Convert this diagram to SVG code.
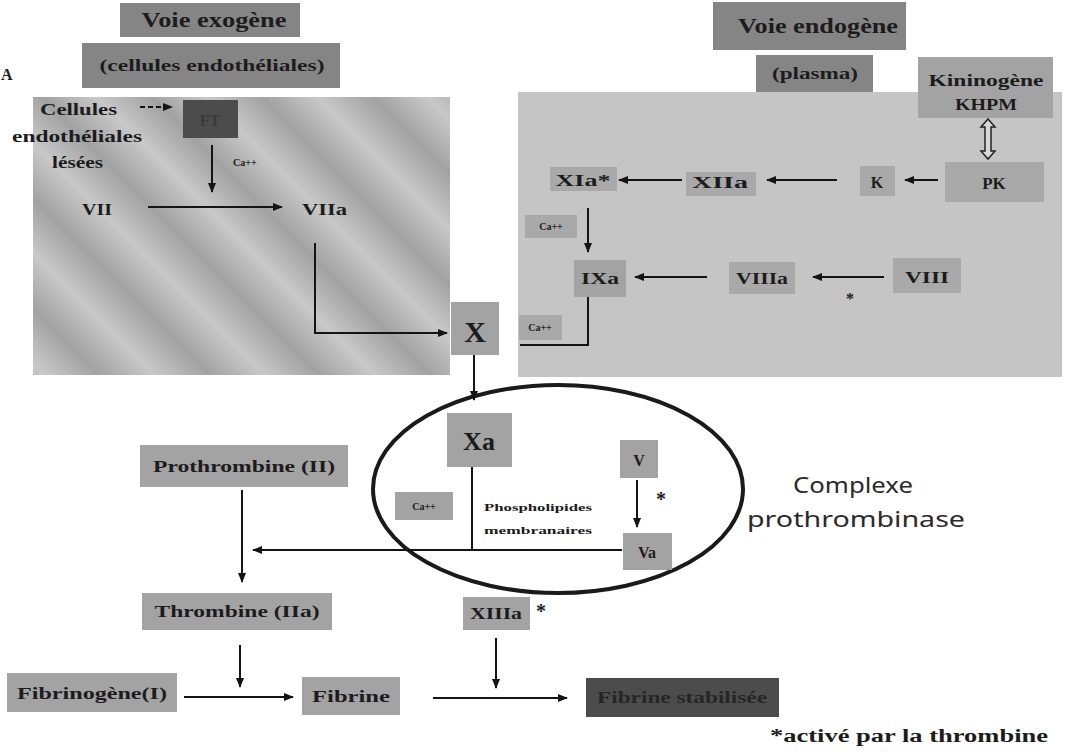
<svg xmlns="http://www.w3.org/2000/svg" width="1065" height="753" viewBox="0 0 1065 753">
<defs>
<style>
.t{font-family:"Liberation Serif","Times New Roman",serif;font-weight:bold;fill:#1c1c1c}
.box{fill:#a3a3a3}
.rbox{fill:#a9a9a9}
.dark{fill:#858585}
.vdark{fill:#4c4c4c}
.ln{stroke:#141414;stroke-width:2;fill:none}
.arr{marker-end:url(#ah)}
</style>
<marker id="ah" viewBox="0 0 10 10" refX="9" refY="5" markerWidth="5" markerHeight="5" markerUnits="strokeWidth" orient="auto"><path d="M0,1 L10,5 L0,9 z" fill="#141414"/></marker>
<linearGradient id="stripes" gradientUnits="userSpaceOnUse" x1="0" y1="0" x2="55" y2="-55" spreadMethod="repeat">
<stop offset="0" stop-color="#c8c8c8"/>
<stop offset="0.5" stop-color="#a2a2a2"/>
<stop offset="1" stop-color="#c8c8c8"/>
</linearGradient>
</defs>
<rect width="1065" height="753" fill="#ffffff"/>

<!-- panels -->
<rect id="panel-exogene" x="33" y="97" width="417" height="278" fill="url(#stripes)"/>
<rect id="panel-endogene" x="518" y="92" width="544" height="285" fill="#c5c5c5"/>

<text class="t" x="1" y="80" font-size="16">A</text>

<g id="voie-exogene">
<rect class="dark" x="120" y="3" width="180" height="34"/>
<text class="t" x="214" y="27" font-size="20" text-anchor="middle" textLength="145" lengthAdjust="spacingAndGlyphs">Voie exogène</text>
</g>
<g id="cellules-endotheliales-titre">
<rect class="dark" x="82" y="43" width="258" height="45"/>
<text class="t" x="212" y="71" font-size="17" text-anchor="middle" textLength="225" lengthAdjust="spacingAndGlyphs">(cellules endothéliales)</text>
</g>
<g id="cellules-lesees">
<text class="t" x="40" y="115" font-size="17" textLength="77" lengthAdjust="spacingAndGlyphs">Cellules</text>
<text class="t" x="12" y="142" font-size="17" textLength="130" lengthAdjust="spacingAndGlyphs">endothéliales</text>
<text class="t" x="52" y="168" font-size="16" textLength="51" lengthAdjust="spacingAndGlyphs">lésées</text>
</g>
<g id="ft">
<rect class="vdark" x="183" y="100" width="55" height="38"/>
<text class="t" x="210" y="126" font-size="16" text-anchor="middle" style="fill:#3a3a3a">FT</text>
</g>
<g id="ca-exo">
<text class="t" x="233" y="166" font-size="10">Ca++</text>
</g>
<g id="vii">
<text class="t" x="82" y="215" font-size="16" textLength="30" lengthAdjust="spacingAndGlyphs">VII</text>
</g>
<g id="viia">
<text class="t" x="302" y="215" font-size="16" textLength="45" lengthAdjust="spacingAndGlyphs">VIIa</text>
</g>
<g id="x">
<rect class="box" x="451" y="302" width="48" height="53"/>
<text class="t" x="475" y="342" font-size="30" text-anchor="middle">X</text>
</g>

<g id="voie-endogene">
<rect class="dark" x="713" y="2" width="193" height="48"/>
<text class="t" x="818" y="33" font-size="20" text-anchor="middle" textLength="160" lengthAdjust="spacingAndGlyphs">Voie endogène</text>
</g>
<g id="plasma">
<rect class="dark" x="756" y="55" width="117" height="37"/>
<text class="t" x="815" y="79" font-size="16" text-anchor="middle" textLength="86" lengthAdjust="spacingAndGlyphs">(plasma)</text>
</g>
<g id="kininogene">
<rect class="box" x="918" y="57" width="135" height="61"/>
<text class="t" x="986" y="86" font-size="16" text-anchor="middle" textLength="115" lengthAdjust="spacingAndGlyphs">Kininogène</text>
<text class="t" x="986" y="110" font-size="16" text-anchor="middle" textLength="62" lengthAdjust="spacingAndGlyphs">KHPM</text>
</g>
<g id="xia">
<rect class="rbox" x="550" y="167" width="67" height="24"/>
<text class="t" x="583" y="186" font-size="16" text-anchor="middle" textLength="55" lengthAdjust="spacingAndGlyphs">XIa*</text>
</g>
<g id="xiia">
<rect class="rbox" x="686" y="172" width="70" height="24"/>
<text class="t" x="720" y="188" font-size="16" text-anchor="middle" textLength="56" lengthAdjust="spacingAndGlyphs">XIIa</text>
</g>
<g id="k">
<rect class="rbox" x="860" y="166" width="35" height="30"/>
<text class="t" x="877" y="188" font-size="16" text-anchor="middle">K</text>
</g>
<g id="pk">
<rect class="rbox" x="945" y="162" width="99" height="40"/>
<text class="t" x="994" y="189" font-size="17" text-anchor="middle">PK</text>
</g>
<g id="ca-xia">
<rect class="rbox" x="525" y="215" width="52" height="23"/>
<text class="t" x="551" y="230" font-size="10" text-anchor="middle">Ca++</text>
</g>
<g id="ixa">
<rect class="box" x="574" y="260" width="52" height="37"/>
<text class="t" x="600" y="284" font-size="16" text-anchor="middle" textLength="38" lengthAdjust="spacingAndGlyphs">IXa</text>
</g>
<g id="viiia">
<rect class="rbox" x="729" y="262" width="66" height="32"/>
<text class="t" x="762" y="284" font-size="16" text-anchor="middle" textLength="52" lengthAdjust="spacingAndGlyphs">VIIIa</text>
</g>
<g id="viii">
<rect class="rbox" x="893" y="258" width="68" height="35"/>
<text class="t" x="927" y="283" font-size="16" text-anchor="middle" textLength="44" lengthAdjust="spacingAndGlyphs">VIII</text>
</g>
<g id="ca-ixa">
<rect class="rbox" x="519" y="315" width="43" height="25"/>
<text class="t" x="540" y="331" font-size="10" text-anchor="middle">Ca++</text>
</g>

<g id="complexe-prothrombinase">
<ellipse cx="558" cy="489" rx="185" ry="104" fill="none" stroke="#1a1a1a" stroke-width="4"/>
<text x="853" y="493" font-family="'Noto Sans','DejaVu Sans',sans-serif" font-size="22" fill="#2a2a2a" text-anchor="middle" textLength="120" lengthAdjust="spacingAndGlyphs">Complexe</text>
<text x="856" y="527" font-family="'Noto Sans','DejaVu Sans',sans-serif" font-size="22" fill="#2a2a2a" text-anchor="middle" textLength="218" lengthAdjust="spacingAndGlyphs">prothrombinase</text>
</g>
<g id="xa">
<rect class="box" x="447" y="413" width="65" height="54"/>
<text class="t" x="479" y="450" font-size="26" text-anchor="middle">Xa</text>
</g>
<g id="ca-complexe">
<rect class="box" x="395" y="492" width="58" height="28"/>
<text class="t" x="424" y="510" font-size="10" text-anchor="middle">Ca++</text>
</g>
<g id="phospholipides">
<text class="t" x="538" y="511" font-size="11" text-anchor="middle" textLength="108" lengthAdjust="spacingAndGlyphs">Phospholipides</text>
<text class="t" x="538" y="534" font-size="11" text-anchor="middle" textLength="108" lengthAdjust="spacingAndGlyphs">membranaires</text>
</g>
<g id="v">
<rect class="box" x="620" y="440" width="38" height="38"/>
<text class="t" x="639" y="466" font-size="16" text-anchor="middle">V</text>
</g>
<g id="va">
<rect class="box" x="623" y="533" width="49" height="37"/>
<text class="t" x="647" y="558" font-size="16" text-anchor="middle">Va</text>
</g>

<g id="prothrombine">
<rect class="box" x="140" y="445" width="208" height="42"/>
<text class="t" x="244" y="472" font-size="17" text-anchor="middle" textLength="182" lengthAdjust="spacingAndGlyphs">Prothrombine (II)</text>
</g>
<g id="thrombine">
<rect class="box" x="142" y="593" width="190" height="37"/>
<text class="t" x="237" y="617" font-size="16" text-anchor="middle" textLength="165" lengthAdjust="spacingAndGlyphs">Thrombine (IIa)</text>
</g>
<g id="xiiia">
<rect class="box" x="463" y="597" width="67" height="33"/>
<text class="t" x="496" y="619" font-size="16" text-anchor="middle" textLength="52" lengthAdjust="spacingAndGlyphs">XIIIa</text>
</g>
<text class="t" x="536" y="618" font-size="20">*</text>
<g id="fibrinogene">
<rect class="box" x="7" y="673" width="170" height="39"/>
<text class="t" x="92" y="699" font-size="16" text-anchor="middle" textLength="150" lengthAdjust="spacingAndGlyphs">Fibrinogène(I)</text>
</g>
<g id="fibrine">
<rect class="box" x="302" y="677" width="98" height="38"/>
<text class="t" x="351" y="702" font-size="16" text-anchor="middle" textLength="78" lengthAdjust="spacingAndGlyphs">Fibrine</text>
</g>
<g id="fibrine-stabilisee">
<rect class="vdark" x="586" y="678" width="193" height="39"/>
<text class="t" x="682" y="703" font-size="16" text-anchor="middle" textLength="170" lengthAdjust="spacingAndGlyphs" style="fill:#262626">Fibrine stabilisée</text>
</g>
<text class="t" x="1048" y="742" font-size="18" text-anchor="end" textLength="278" lengthAdjust="spacingAndGlyphs">*activé par la thrombine</text>

<g id="connectors">
<line class="ln arr" x1="140" y1="107" x2="172" y2="107" stroke-dasharray="5,3"/>
<line class="ln arr" x1="212" y1="145" x2="212" y2="192"/>
<line class="ln arr" x1="148" y1="207" x2="282" y2="207"/>
<path class="ln arr" d="M315,243 V333 H447"/>
<path d="M988,119 L995,127 L991,127 L991,151 L995,151 L988,159 L981,151 L985,151 L985,127 L981,127 Z" fill="#d8d8d8" stroke="#222" stroke-width="1.5"/>
<line class="ln arr" x1="682" y1="180" x2="619" y2="180"/>
<line class="ln arr" x1="837" y1="180" x2="767" y2="180"/>
<line class="ln arr" x1="938" y1="180" x2="905" y2="180"/>
<line class="ln arr" x1="588" y1="208" x2="588" y2="252"/>
<line class="ln arr" x1="707" y1="277" x2="635" y2="277"/>
<line class="ln arr" x1="884" y1="277" x2="813" y2="277"/>
<text class="t" x="850" y="304" font-size="16" text-anchor="middle">*</text>
<path class="ln" d="M588,297 V345 H520"/>
<line class="ln arr" x1="474" y1="355" x2="474" y2="400"/>
<path class="ln" d="M472,467 V550"/>
<line class="ln arr" x1="622" y1="550" x2="253" y2="550"/>
<line class="ln arr" x1="637" y1="480" x2="637" y2="527"/>
<text class="t" x="661" y="506" font-size="20" text-anchor="middle">*</text>
<line class="ln arr" x1="242" y1="490" x2="242" y2="582"/>
<line class="ln arr" x1="240" y1="645" x2="240" y2="687"/>
<line class="ln arr" x1="184" y1="697" x2="293" y2="697"/>
<line class="ln arr" x1="496" y1="638" x2="496" y2="688"/>
<line class="ln arr" x1="433" y1="698" x2="567" y2="698"/>
</g>
</svg>
